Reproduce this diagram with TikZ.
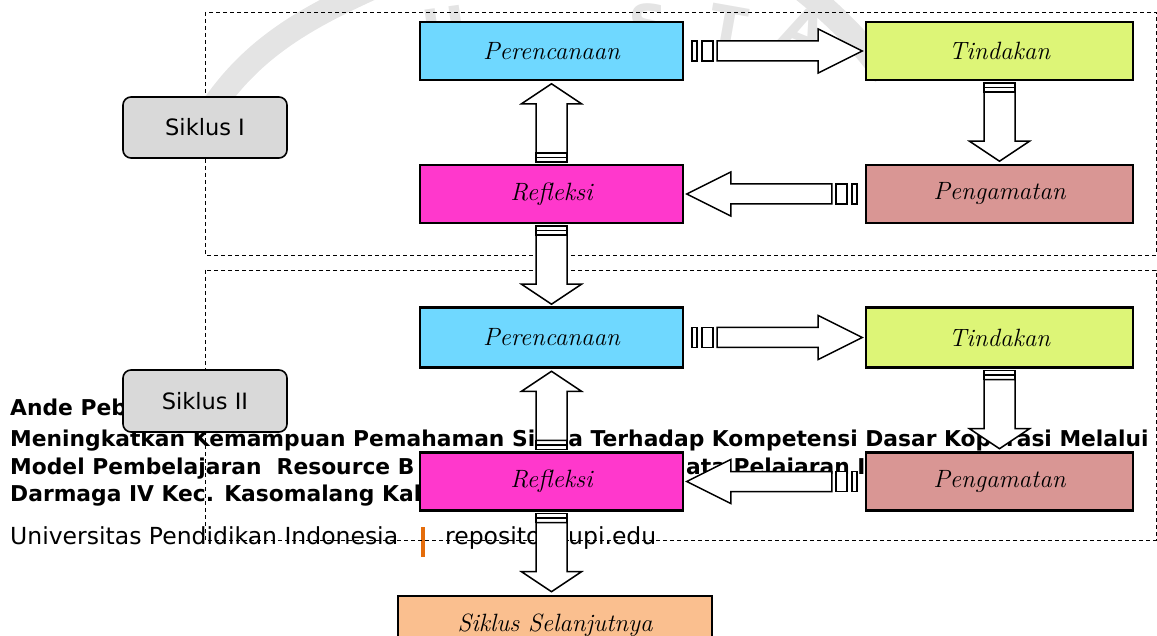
\documentclass[tikz,border=0pt]{standalone}
\usepackage{fontspec}
\newfontfamily\dejavu{DejaVu Sans}
\usetikzlibrary{calc}
\definecolor{cBlue}{HTML}{6FD8FF}
\definecolor{cLime}{HTML}{DDF577}
\definecolor{cMag}{HTML}{FF38CC}
\definecolor{cRose}{HTML}{D99694}
\definecolor{cPeach}{HTML}{FABF8F}
\definecolor{cGray}{HTML}{D9D9D9}
\definecolor{cOrange}{HTML}{E46C0A}
\definecolor{cWm}{HTML}{E4E4E4}
\tikzset{
  stagebox/.style={draw=black, line width=2.4pt, inner sep=0pt, minimum width=263pt, minimum height=58pt,
    font=\fontsize{25}{27}\selectfont\itshape},
  cyclebox/.style={draw=black, line width=1.6pt, rounded corners=8pt, fill=cGray, inner sep=0pt,
    minimum width=164pt, minimum height=61pt, font=\dejavu\fontsize{22.5}{25}\selectfont},
  barrow/.style={draw=black, fill=white, line width=1.5pt, line join=miter},
  cyclearea/.style={draw=black, line width=0.9pt, dash pattern=on 4pt off 3pt},
  foot/.style={anchor=base west, inner sep=0pt, font=\dejavu\fontsize{21.8}{26}\selectfont\bfseries},
  footn/.style={anchor=base west, inner sep=0pt, font=\dejavu\fontsize{23.5}{26}\selectfont},
  wm/.style={text=cWm, font=\dejavu\bfseries\fontsize{55}{55}\selectfont, inner sep=0pt}
}
% horizontal block arrow with two stripes, from a node border
\newcommand\blockH[2]{%
  \begin{scope}[shift={#1}, rotate=#2]
    \draw[barrow] (8,-10) rectangle (13,10);
    \draw[barrow] (18,-10) rectangle (29,10);
    \draw[barrow] (33,-10) -- (134,-10) -- (134,-22) -- (178,0) -- (134,22) -- (134,10) -- (33,10) -- cycle;
  \end{scope}}
% vertical block arrow with two flat stripes
\newcommand\blockV[2]{%
  \begin{scope}[shift={#1}, rotate=#2]
    \draw[barrow] (2,-15.5) rectangle (6.5,15.5);
    \draw[barrow] (6.5,-15.5) rectangle (11,15.5);
    \draw[barrow] (11,-15.5) -- (60,-15.5) -- (60,-30) -- (80,0) -- (60,30) -- (60,15.5) -- (11,15.5) -- cycle;
  \end{scope}}
\begin{document}
\begin{tikzpicture}[x=1pt, y=-1pt]
\useasboundingbox (0,0) rectangle (1157,636);
\clip (0,0) rectangle (1157,636);
% faint watermark
\draw[cWm, line width=24pt] (212,108) .. controls (255,45) and (310,15) .. (390,-20);
\draw[cWm, line width=24pt] (790,-20) .. controls (830,10) and (860,40) .. (885,75);
\node[wm, rotate=8] (wU) at (445,28) {U};
\node[wm, rotate=0] (wS) at (648,24) {S};
\node[wm, rotate=-10] (wT) at (728,26) {T};
\node[wm, rotate=-22] (wA) at (805,30) {A};
% footer text of the page
\node[foot] (f1) at (10,415) {Ande Peb};
\node[foot] (f2) at (10,446) {Meningkatkan Kemampuan Pemahaman Siswa Terhadap Kompetensi Dasar Koperasi Melalui};
\node[foot] (f3) at (10,474) {Model Pembelajaran\ \ Resource B};
\node[foot] (f3b) at (686,474) {ata Pelajaran I};
\node[foot] (f4) at (10,501) {Darmaga IV Kec. Kasomalang Kab};
\node[footn] (f5) at (10,544) {Universitas Pendidikan Indonesia};
\node[footn] (f6) at (445,544) {repository.upi.edu};
\draw[cOrange, line width=3.5pt] (423,527) -- (423,557);
% cycle areas
\draw[cyclearea] (205,12) rectangle (1156,255);
\draw[cyclearea] (205,270) rectangle (1156,540);
% cycle labels
\node[cyclebox] (k1) at (205,127.5) {Siklus I};
\node[cyclebox, minimum height=62pt] (k2) at (205,401) {Siklus II};
% stage boxes
\node[stagebox, fill=cBlue] (p1) at (551.5,51) {Perencanaan};
\node[stagebox, fill=cLime, minimum width=267pt] (t1) at (999.5,51) {Tindakan};
\node[stagebox, fill=cMag] (r1) at (551.5,194) {Refleksi};
\node[stagebox, fill=cRose, minimum width=267pt] (g1) at (999.5,194) {Pengamatan};
\node[stagebox, fill=cBlue, minimum height=60pt] (p2) at (551.5,337.5) {Perencanaan};
\node[stagebox, fill=cLime, minimum width=267pt, minimum height=60pt] (t2) at (999.5,337.5) {Tindakan};
\node[stagebox, fill=cMag] (r2) at (551.5,481.5) {Refleksi};
\node[stagebox, fill=cRose, minimum width=267pt] (g2) at (999.5,481.5) {Pengamatan};
\node[stagebox, fill=cPeach, minimum width=314pt, minimum height=60pt, anchor=north] (s) at (555,595) {};
\node[inner sep=0pt, font=\fontsize{25}{27}\selectfont\itshape] (sl) at (555,625) {Siklus Selanjutnya};
% connectors
\blockH{(p1.east)}{0}
\blockV{(t1.south)}{-90}
\blockH{(g1.west)}{180}
\blockV{(r1.north)}{90}
\blockV{(r1.south)}{-90}
\blockH{(p2.east)}{0}
\blockV{(t2.south)}{-90}
\blockH{(g2.west)}{180}
\blockV{(r2.north)}{90}
\blockV{(r2.south)}{-90}
\end{tikzpicture}
\end{document}
